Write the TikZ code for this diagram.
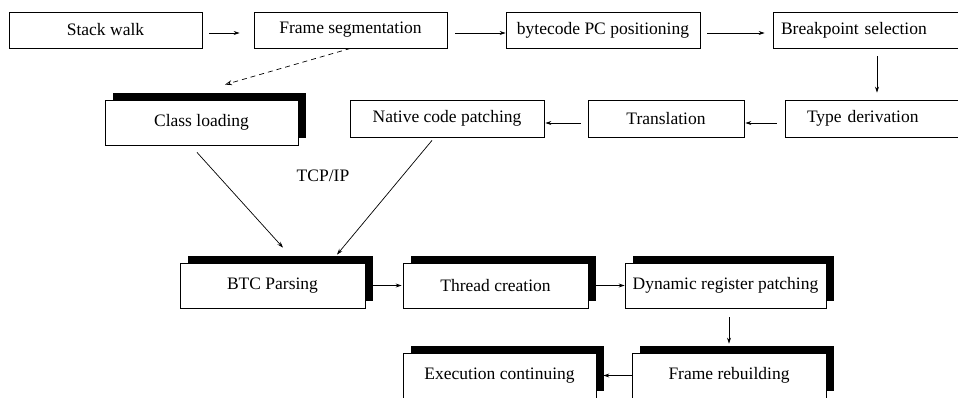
\documentclass[tikz,border=0pt]{standalone}
\usepackage{fontspec}
\setmainfont{Liberation Serif}
\usetikzlibrary{arrows.meta,shadows}
\begin{document}
\begin{tikzpicture}[x=1pt,y=-1pt,
  font=\fontsize{17.5pt}{20pt}\selectfont,
  box/.style={draw=black,line width=0.8pt,fill=white,inner sep=0pt,minimum height=36pt},
  sbox/.style={box,minimum height=45pt,general shadow={fill=black,shadow xshift=7.5pt,shadow yshift=7.5pt}},
  arr/.style={line width=0.7pt,-{Stealth[length=6pt,width=4pt]}},
  darr/.style={arr,dashed,dash pattern=on 5pt off 4pt,-{Stealth[open,length=7pt,width=5pt]}}]
\useasboundingbox (0,0) rectangle (958,397);
\clip (0,0) rectangle (958,397);
% top row
\node[box,minimum width=193pt] (stack) at (105.5,30) {Stack walk};
\node[box,minimum width=193pt] (frameseg) at (350.5,30) {Frame segmentation};
\node[box,minimum width=194pt] (bytecode) at (603,30) {bytecode PC positioning};
\node[box,minimum width=193pt,text width=177pt,align=left,inner xsep=8pt] (breakpoint) at (869.5,30) {Breakpoint selection};
% second row
\node[box,minimum width=193pt,text width=171pt,align=left,inner xsep=22pt,minimum height=37pt] (typeder) at (892.5,118.5) {Type derivation};
\node[box,minimum width=156pt,minimum height=37pt] (translation) at (666,118.5) {Translation};
\node[box,minimum width=194pt,minimum height=37pt] (native) at (447,118.5) {Native code patching};
\node[sbox,minimum width=193pt] (classload) at (201.5,122.5) {Class loading};
\node (tcp) at (323,176) {TCP/IP};
% third row
\node[sbox,minimum width=185pt] (btc) at (272.5,285.5) {BTC Parsing};
\node[sbox,minimum width=185pt] (thread) at (495.5,285.5) {Thread creation};
\node[sbox,minimum width=201pt] (dynamic) at (725.5,285.5) {Dynamic register patching};
% bottom row
\node[sbox,minimum width=193pt] (exec) at (499.5,375.5) {Execution continuing};
\node[sbox,minimum width=194pt] (framereb) at (729,375.5) {Frame rebuilding};
% connectors
\draw[arr,shorten <=7pt,shorten >=14pt] ([yshift=-3pt]stack.east) -- ([yshift=-3pt]frameseg.west);
\draw[arr,shorten <=8pt] ([yshift=-3pt]frameseg.east) -- ([yshift=-3pt]bytecode.west);
\draw[arr,shorten <=7pt,shorten >=8pt] ([yshift=-3pt]bytecode.east) -- ([yshift=-3pt]breakpoint.west);
\draw[arr,shorten <=8pt,shorten >=7pt] ([xshift=7.5pt]breakpoint.south) -- ([xshift=-15.5pt]typeder.north);
\draw[arr,shorten <=8pt,shorten >=1pt] ([yshift=-4.5pt]typeder.west) -- ([yshift=-4.5pt]translation.east);
\draw[arr,shorten <=7pt,shorten >=1pt] ([yshift=-4.5pt]translation.west) -- ([yshift=-4.5pt]native.east);
\draw[darr] (frameseg.south) -- ([xshift=23.5pt,yshift=15pt]classload.north);
\draw[arr] ([xshift=-4.5pt,yshift=-7pt]classload.south) -- ([xshift=10.5pt,yshift=15pt]btc.north);
\draw[arr] ([xshift=-15pt,yshift=-3pt]native.south) -- ([xshift=64.5pt,yshift=8pt]btc.north);
\draw[arr,shorten <=8pt,shorten >=1pt] (btc.east) -- (thread.west);
\draw[arr,shorten <=8pt,shorten >=0pt] (thread.east) -- (dynamic.west);
\draw[arr,shorten <=9pt,shorten >=9pt] ([xshift=3.5pt]dynamic.south) -- (framereb.north);
\draw[arr,shorten >=7pt] (framereb.west) -- (exec.east);
\end{tikzpicture}
\end{document}
